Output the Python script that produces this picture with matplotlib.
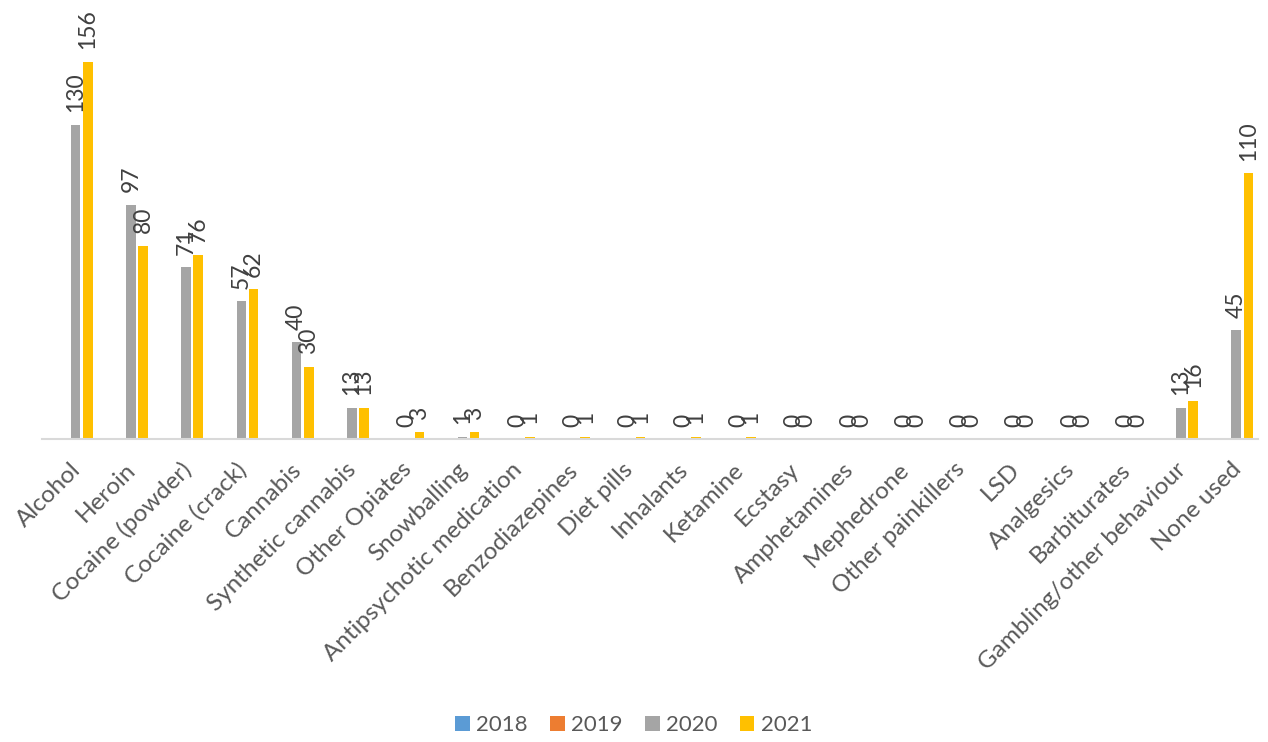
import numpy as np
from matplotlib import pyplot as plt

plt.rcParams["font.family"] = ["Lato", "DejaVu Sans"]

categories = [
    "Alcohol", "Heroin", "Cocaine (powder)", "Cocaine (crack)", "Cannabis",
    "Synthetic cannabis", "Other Opiates", "Snowballing",
    "Antipsychotic medication", "Benzodiazepines", "Diet pills", "Inhalants",
    "Ketamine", "Ecstasy", "Amphetamines", "Mephedrone", "Other painkillers",
    "LSD", "Analgesics", "Barbiturates", "Gambling/other behaviour", "None used",
]
# 2018 and 2019 have no values in the source chart
values_2018 = [np.nan] * len(categories)
values_2019 = [np.nan] * len(categories)
values_2020 = [130, 97, 71, 57, 40, 13, 0, 1, 0, 0, 0, 0, 0, 0, 0, 0, 0, 0, 0, 0, 13, 45]
values_2021 = [156, 80, 76, 62, 30, 13, 3, 3, 1, 1, 1, 1, 1, 0, 0, 0, 0, 0, 0, 0, 16, 110]

series = [
    ("2018", values_2018, "#5B9BD5"),
    ("2019", values_2019, "#ED7D31"),
    ("2020", values_2020, "#A5A5A5"),
    ("2021", values_2021, "#FFC000"),
]

fig = plt.figure(figsize=(12.68, 7.42), dpi=100)
ax = fig.add_axes([0.033, 0.408, 0.959, 0.587])

x = np.arange(len(categories))
slot = 0.22
width = 0.175
for i, (name, vals, color) in enumerate(series):
    bars = ax.bar(x + (i - 1.5) * slot, vals, width, color=color, label=name)
    if name in ("2020", "2021"):
        ax.bar_label(bars, padding=9, rotation=90, fontsize=16.5, color="#404040")

ax.set_xlim(-0.5, len(categories) - 0.5)
ax.set_ylim(0, 180)
ax.set_yticks([])
for side in ("left", "right", "top"):
    ax.spines[side].set_visible(False)
ax.spines["bottom"].set_color("#D9D9D9")
ax.spines["bottom"].set_linewidth(1.5)

ax.set_xticks(x)
ax.set_xticklabels(categories, rotation=45, ha="right", rotation_mode="anchor",
                   fontsize=17.5, color="#595959")
ax.tick_params(axis="x", length=0, pad=14)

fig.legend(loc="center", bbox_to_anchor=(0.5, 0.023), ncol=4, frameon=False,
           fontsize=16, labelcolor="#595959", handlelength=0.65, handleheight=0.65,
           handletextpad=0.3, columnspacing=1.0)

fig.savefig("out.png", dpi=100)
